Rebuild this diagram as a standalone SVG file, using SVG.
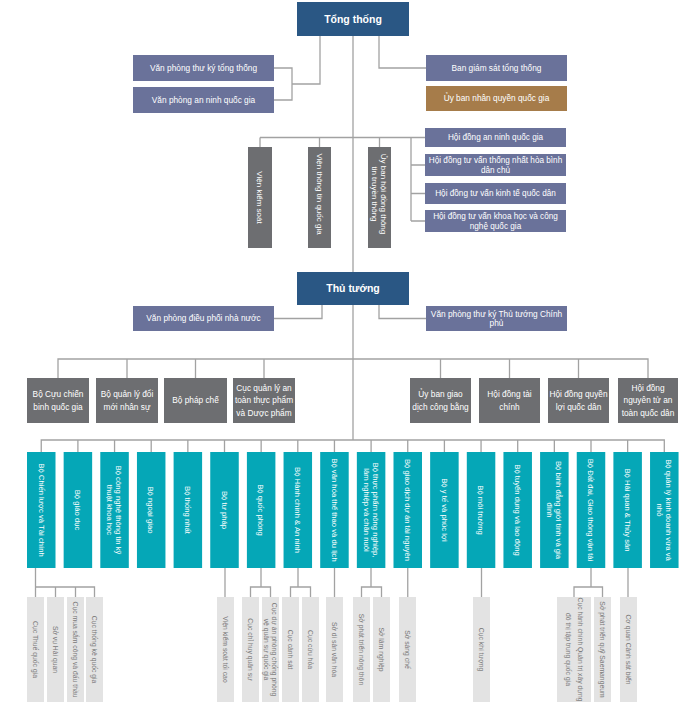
<svg xmlns="http://www.w3.org/2000/svg" width="695" height="716" viewBox="0 0 695 716">
<style>
.ln{stroke:#a2a2a2;stroke-width:1.3;fill:none}
.navy{fill:#2a5784}
.slate{fill:#6a729a}
.brown{fill:#a67c4a}
.dg{fill:#6d6e71}
.teal{fill:#05a7b7}
.lg{fill:#e3e3e3}
text{font-family:"Liberation Sans",Arial,sans-serif;text-anchor:middle}
.tb{fill:#fff;font-size:10.5px;font-weight:bold}
.to{fill:#fff;font-size:8.3px}
.tr{fill:#fff;font-size:8.3px}
.tv{fill:#fff;font-size:8px}
.th{fill:#fff;font-size:8.2px}
.tt{fill:#fff;font-size:7.7px}
.ts{fill:#777;font-size:6.8px}
</style>
<rect width="695" height="716" fill="#fff"/>
<g id="connectors">
<path class="ln" d="M320 36V84H292M274 68H292V100H274"/>
<path class="ln" d="M379 36V68H426"/>
<path class="ln" d="M353 36V272M353 305V440"/>
<path class="ln" d="M260 137.5H425M260 137.5V147M319.5 137.5V147M379.5 137.5V147"/>
<path class="ln" d="M411 137.5V221M411 165H425M411 193.5H425M411 221H425"/>
<path class="ln" d="M322 305V318.5H274M379 305V318.5H426"/>
<path class="ln" d="M58 378V359H648V378M127 359V378M195.5 359V378M264 359V378M440.5 359V378M509.5 359V378M578.5 359V378"/>
<path class="ln" d="M41.25 452V440H664.3V452M77.9 440V452M114.55 440V452M151.2 440V452M187.85 440V452M224.5 440V452M261.15 440V452M297.8 440V452M334.45 440V452M371.1 440V452M407.75 440V452M444.4 440V452M481.05 440V452M517.7 440V452M554.35 440V452M591 440V452M627.65 440V452"/>
<path class="ln" d="M35.5 568V597M35.5 587H94.5V597M55.5 587V597M75.5 587V597"/>
<path class="ln" d="M225 568V597"/>
<path class="ln" d="M261 568V587M250.5 597V587H270.5V597"/>
<path class="ln" d="M298 568V587M290.5 597V587H310.5V597"/>
<path class="ln" d="M334.5 568V597"/>
<path class="ln" d="M371 568V587M361.5 597V587H381.5V597"/>
<path class="ln" d="M407.75 568V597"/>
<path class="ln" d="M481.5 568V597"/>
<path class="ln" d="M591 568V587M574 597V587H602.5V597"/>
<path class="ln" d="M628 568V597"/>
</g>

<g id="n-tongthong"><rect class="navy" x="297" y="2" width="112" height="34"/><text class="tb" x="353" y="22.7">Tổng thống</text></g>
<g id="n-vpthuky"><rect class="slate" x="133" y="55" width="141" height="26"/><text class="to" x="203.5" y="70.9">Văn phòng thư ký tổng thống</text></g>
<g id="n-vpanninh"><rect class="slate" x="133" y="87" width="141" height="26"/><text class="to" x="203.5" y="102.9">Văn phòng an ninh quốc gia</text></g>
<g id="n-bangiamsat"><rect class="slate" x="426" y="55" width="141" height="26"/><text class="to" x="496.5" y="70.9">Ban giám sát tổng thống</text></g>
<g id="n-uybannhanquyen"><rect class="brown" x="426" y="86" width="141" height="25"/><text class="to" x="496.5" y="101.4">Ủy ban nhân quyền quốc gia</text></g>

<g id="n-vienkiemsoat"><rect class="dg" x="248" y="147" width="24" height="101"/><text class="tv" transform="translate(260 197.5) rotate(90)" y="2.8">Viện kiểm soát</text></g>
<g id="n-vienthongtin"><rect class="dg" x="308" y="147" width="23" height="101"/><text class="tv" transform="translate(319.5 194) rotate(90)" y="2.8">Viện thông tin quốc gia</text></g>
<g id="n-uybanhoidong"><rect class="dg" x="368" y="147" width="23" height="101"/><text class="tv" transform="translate(379.5 194) rotate(90)"><tspan x="0" y="-1.8">Ủy ban hội đồng thông</tspan><tspan x="0" y="7.4">tin truyền thông</tspan></text></g>

<g id="n-hdanninh"><rect class="slate" x="425" y="128" width="141" height="19"/><text class="th" x="495.5" y="140.4">Hội đồng an ninh quốc gia</text></g>
<g id="n-hdthongnhat"><rect class="slate" x="425" y="154" width="141" height="22"/><text class="th"><tspan x="495.5" y="163">Hội đồng tư vấn thống nhất hòa bình</tspan><tspan x="495.5" y="172.6">dân chủ</tspan></text></g>
<g id="n-hdkinhte"><rect class="slate" x="425" y="183" width="141" height="21"/><text class="th" x="495.5" y="196.4">Hội đồng tư vấn kinh tế quốc dân</text></g>
<g id="n-hdkhoahoc"><rect class="slate" x="425" y="210" width="141" height="22"/><text class="th"><tspan x="495.5" y="219">Hội đồng tư vấn khoa học và công</tspan><tspan x="495.5" y="228.6">nghệ quốc gia</tspan></text></g>

<g id="n-thutuong"><rect class="navy" x="297" y="272" width="112" height="33"/><text class="tb" x="353" y="292.2">Thủ tướng</text></g>
<g id="n-vpdieuphoi"><rect class="slate" x="133" y="306" width="141" height="25"/><text class="to" x="203.5" y="321.4">Văn phòng điều phối nhà nước</text></g>
<g id="n-vpthukytt"><rect class="slate" x="426" y="306" width="141" height="25"/><text class="to"><tspan x="496.5" y="316.6">Văn phòng thư ký Thủ tướng Chính</tspan><tspan x="496.5" y="326.2">phủ</tspan></text></g>

<g id="n-cuuchienbinh"><rect class="dg" x="27" y="378" width="62" height="45"/><text class="tr"><tspan x="58" y="397.2">Bộ Cựu chiến</tspan><tspan x="58" y="409.7">binh quốc gia</tspan></text></g>
<g id="n-doimoinhansu"><rect class="dg" x="96" y="378" width="62" height="45"/><text class="tr"><tspan x="127" y="397.2">Bộ quản lý đổi</tspan><tspan x="127" y="409.7">mới nhân sự</tspan></text></g>
<g id="n-phapche"><rect class="dg" x="164" y="378" width="63" height="45"/><text class="tr" x="195.5" y="403.4">Bộ pháp chế</text></g>
<g id="n-attp"><rect class="dg" x="233" y="378" width="62" height="45"/><text class="tr"><tspan x="264" y="391">Cục quản lý an</tspan><tspan x="264" y="403.4">toàn thực phẩm</tspan><tspan x="264" y="415.8">và Dược phẩm</tspan></text></g>
<g id="n-giaodichcongbang"><rect class="dg" x="410" y="378" width="61" height="45"/><text class="tr"><tspan x="440.5" y="397.2">Ủy ban giao</tspan><tspan x="440.5" y="409.7">dịch công bằng</tspan></text></g>
<g id="n-hdtaichinh"><rect class="dg" x="479" y="378" width="61" height="45"/><text class="tr"><tspan x="509.5" y="397.2">Hội đồng tài</tspan><tspan x="509.5" y="409.7">chính</tspan></text></g>
<g id="n-hdquyenloi"><rect class="dg" x="548" y="378" width="61" height="45"/><text class="tr"><tspan x="578.5" y="397.2">Hội đồng quyền</tspan><tspan x="578.5" y="409.7">lợi quốc dân</tspan></text></g>
<g id="n-hdnguyentu"><rect class="dg" x="618" y="378" width="60" height="45"/><text class="tr"><tspan x="648" y="391">Hội đồng</tspan><tspan x="648" y="403.4">nguyên tử an</tspan><tspan x="648" y="415.8">toàn quốc dân</tspan></text></g>

<g id="n-b00"><rect class="teal" x="27" y="452" width="28.5" height="116"/><text class="tt" transform="translate(41.25 510) rotate(90)" y="2.7">Bộ Chiến lược và Tài chính</text></g>
<g id="n-b01"><rect class="teal" x="63.65" y="452" width="28.5" height="116"/><text class="tt" transform="translate(77.9 510) rotate(90)" y="2.7">Bộ giáo dục</text></g>
<g id="n-b02"><rect class="teal" x="100.3" y="452" width="28.5" height="116"/><text class="tt" transform="translate(114.55 510) rotate(90)"><tspan x="0" y="-1.8">Bộ công nghệ thông tin kỹ</tspan><tspan x="0" y="7.2">thuật khoa học</tspan></text></g>
<g id="n-b03"><rect class="teal" x="136.95" y="452" width="28.5" height="116"/><text class="tt" transform="translate(151.2 510) rotate(90)" y="2.7">Bộ ngoại giao</text></g>
<g id="n-b04"><rect class="teal" x="173.6" y="452" width="28.5" height="116"/><text class="tt" transform="translate(187.85 510) rotate(90)" y="2.7">Bộ thống nhất</text></g>
<g id="n-b05"><rect class="teal" x="210.25" y="452" width="28.5" height="116"/><text class="tt" transform="translate(224.5 510) rotate(90)" y="2.7">Bộ tư pháp</text></g>
<g id="n-b06"><rect class="teal" x="246.9" y="452" width="28.5" height="116"/><text class="tt" transform="translate(261.15 510) rotate(90)" y="2.7">Bộ quốc phòng</text></g>
<g id="n-b07"><rect class="teal" x="283.55" y="452" width="28.5" height="116"/><text class="tt" transform="translate(297.8 510) rotate(90)" y="2.7">Bộ Hành chính &amp; An ninh</text></g>
<g id="n-b08"><rect class="teal" x="320.2" y="452" width="28.5" height="116"/><text class="tt" transform="translate(334.45 510) rotate(90)" y="2.7">Bộ văn hóa thể thao và du lịch</text></g>
<g id="n-b09"><rect class="teal" x="356.85" y="452" width="28.5" height="116"/><text class="tt" transform="translate(371.1 510) rotate(90)"><tspan x="0" y="-1.8">Bộ thực phẩm nông nghiệp,</tspan><tspan x="0" y="7.2">lâm nghiệp và chăn nuôi</tspan></text></g>
<g id="n-b10"><rect class="teal" x="393.5" y="452" width="28.5" height="116"/><text class="tt" transform="translate(407.75 510) rotate(90)" y="2.7">Bộ giao dịch dự án tài nguyên</text></g>
<g id="n-b11"><rect class="teal" x="430.15" y="452" width="28.5" height="116"/><text class="tt" transform="translate(444.4 510) rotate(90)" y="2.7">Bộ y tế và phúc lợi</text></g>
<g id="n-b12"><rect class="teal" x="466.8" y="452" width="28.5" height="116"/><text class="tt" transform="translate(481.05 510) rotate(90)" y="2.7">Bộ môi trường</text></g>
<g id="n-b13"><rect class="teal" x="503.45" y="452" width="28.5" height="116"/><text class="tt" transform="translate(517.7 510) rotate(90)" y="2.7">Bộ tuyển dụng và lao động</text></g>
<g id="n-b14"><rect class="teal" x="540.1" y="452" width="28.5" height="116"/><text class="tt" transform="translate(554.35 510) rotate(90)"><tspan x="0" y="-1.8">Bộ bình đẳng giới tính và gia</tspan><tspan x="0" y="7.2">đình</tspan></text></g>
<g id="n-b15"><rect class="teal" x="576.75" y="452" width="28.5" height="116"/><text class="tt" transform="translate(591 510) rotate(90)" y="2.7">Bộ Đất đai, Giao thông vận tải</text></g>
<g id="n-b16"><rect class="teal" x="613.4" y="452" width="28.5" height="116"/><text class="tt" transform="translate(627.65 510) rotate(90)" y="2.7">Bộ Hải quan &amp; Thủy sản</text></g>
<g id="n-b17"><rect class="teal" x="650.05" y="452" width="28.5" height="116"/><text class="tt" transform="translate(664.3 510) rotate(90)"><tspan x="0" y="-1.8">Bộ quản lý kinh doanh vừa và</tspan><tspan x="0" y="7.2">nhỏ</tspan></text></g>

<g id="n-s01"><rect class="lg" x="27" y="597" width="17" height="105"/><text class="ts" transform="translate(35.5 649.5) rotate(90)" y="2.4">Cục Thuế quốc gia</text></g>
<g id="n-s02"><rect class="lg" x="47" y="597" width="17" height="105"/><text class="ts" transform="translate(55.5 649.5) rotate(90)" y="2.4">Sở vụ Hải quan</text></g>
<g id="n-s03"><rect class="lg" x="67" y="597" width="17" height="105"/><text class="ts" transform="translate(75.5 649.5) rotate(90)" y="2.4">Cục mua sắm công và đấu thầu</text></g>
<g id="n-s04"><rect class="lg" x="86" y="597" width="17" height="105"/><text class="ts" transform="translate(94.5 649.5) rotate(90)" y="2.4">Cục thống kê quốc gia</text></g>
<g id="n-s05"><rect class="lg" x="217" y="597" width="17" height="105"/><text class="ts" transform="translate(225.5 649.5) rotate(90)" y="2.4">Viện kiểm soát tối cao</text></g>
<g id="n-s06"><rect class="lg" x="242" y="597" width="17" height="105"/><text class="ts" transform="translate(250.5 649.5) rotate(90)" y="2.4">Cục chỉ huy quân sự</text></g>
<g id="n-s07"><rect class="lg" x="262" y="597" width="17" height="105"/><text class="ts" transform="translate(270.5 649.5) rotate(90)"><tspan x="0" y="-1.4">Cục dự án phòng chống phòng</tspan><tspan x="0" y="6.2">vệ quân sự quốc gia</tspan></text></g>
<g id="n-s08"><rect class="lg" x="282" y="597" width="17" height="105"/><text class="ts" transform="translate(290.5 649.5) rotate(90)" y="2.4">Cục cảnh sát</text></g>
<g id="n-s09"><rect class="lg" x="302" y="597" width="17" height="105"/><text class="ts" transform="translate(310.5 649.5) rotate(90)" y="2.4">Cục cứu hỏa</text></g>
<g id="n-s10"><rect class="lg" x="326" y="597" width="17" height="105"/><text class="ts" transform="translate(334.5 649.5) rotate(90)" y="2.4">Sở di sản văn hóa</text></g>
<g id="n-s11"><rect class="lg" x="353" y="597" width="17" height="105"/><text class="ts" transform="translate(361.5 649.5) rotate(90)" y="2.4">Sở phát triển nông thôn</text></g>
<g id="n-s12"><rect class="lg" x="373" y="597" width="17" height="105"/><text class="ts" transform="translate(381.5 649.5) rotate(90)" y="2.4">Sở lâm nghiệp</text></g>
<g id="n-s13"><rect class="lg" x="399" y="597" width="17" height="105"/><text class="ts" transform="translate(407.5 649.5) rotate(90)" y="2.4">Sở sáng chế</text></g>
<g id="n-s14"><rect class="lg" x="473" y="597" width="17" height="105"/><text class="ts" transform="translate(481.5 649.5) rotate(90)" y="2.4">Cục khí tượng</text></g>
<g id="n-s15"><rect class="lg" x="557" y="597" width="34" height="105"/><text class="ts" transform="translate(574 649.5) rotate(90)"><tspan x="0" y="-3.6">Cục hành chính Quản trị xây dựng</tspan><tspan x="0" y="8.4">đô thị tập trung quốc gia</tspan></text></g>
<g id="n-s16"><rect class="lg" x="594" y="597" width="17" height="105"/><text class="ts" transform="translate(602.5 649.5) rotate(90)" y="2.4">Sở phát triển quỹ Saemangeum</text></g>
<g id="n-s17"><rect class="lg" x="620" y="597" width="17" height="105"/><text class="ts" transform="translate(628.5 649.5) rotate(90)" y="2.4">Cơ quan Cảnh sát biển</text></g>
</svg>
